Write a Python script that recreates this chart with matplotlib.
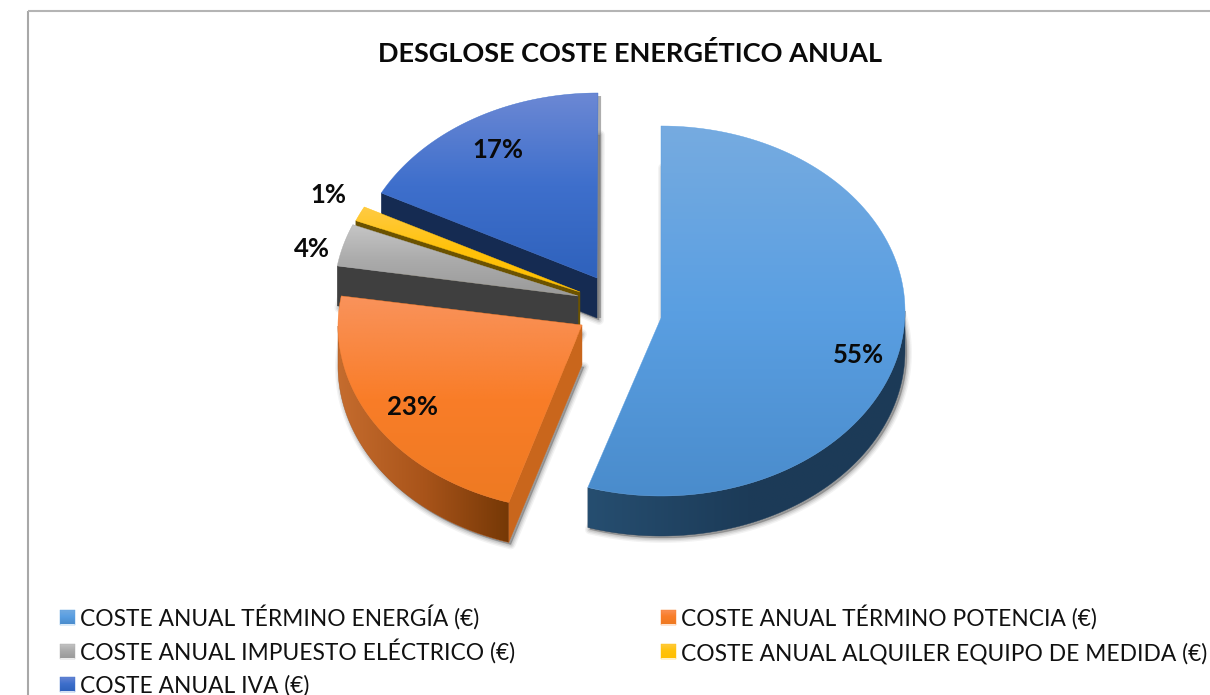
import numpy as np
import matplotlib
matplotlib.use("Agg")
import matplotlib.pyplot as plt
from matplotlib.colors import LinearSegmentedColormap
from matplotlib.patches import Polygon

plt.rcParams['font.family'] = ['Lato', 'DejaVu Sans']

# data
categories = ['COSTE ANUAL TÉRMINO ENERGÍA (€)', 'COSTE ANUAL TÉRMINO POTENCIA (€)',
              'COSTE ANUAL IMPUESTO ELÉCTRICO (€)', 'COSTE ANUAL ALQUILER EQUIPO DE MEDIDA (€)',
              'COSTE ANUAL IVA (€)']
values = [54.85, 22.75, 3.7, 1.3, 17.4]
title = 'DESGLOSE COSTE ENERGÉTICO ANUAL'

# style / layout (pixel space)
W, H = 1210, 695
RX, RY, DEPTH = 244, 185, 40
apex = [(661, 318), (582, 325), (578, 296), (580, 292), (597, 278)]
centre = [(661, 311), (582, 326), (578, 296), (581, 292), (598, 278)]
top_cols = [['#76ABE0', '#5A9FE2', '#4A8CCC'], ['#F9935C', '#F97D28', '#EE7A22'],
            ['#C6C6C6', '#ABABAB', '#9A9A9A'], ['#FFCB45', '#FFC20A', '#FFBF00'],
            ['#6C88D4', '#3E6FCC', '#2F62BC']]
arc_cols = [['#264E70', '#1C3B58', '#1C3A57'], ['#C56C2E', '#A9541A', '#753806'],
            ['#404040', '#404040', '#404040'], ['#6B5200', '#6B5200', '#6B5200'],
            ['#16294F', '#16294F', '#16294F']]
cut_cols = ['#1C3A57', '#C9661C', '#3F3F3F', '#6B5200', '#152B52']
label_pos = [(858, 363), (412, 415), (312, 257), (328, 203), (498, 158)]
legend_pos = [(60, 617), (661, 617), (60, 651), (661, 651), (60, 684)]

fig = plt.figure(figsize=(W / 100, H / 100), dpi=100)
ax = fig.add_axes([0, 0, 1, 1])
ax.axis('off')


def grad_fill(poly, colors, horizontal=False, z=1):
    poly = np.asarray(poly)
    x0, y0 = poly.min(axis=0)
    x1, y1 = poly.max(axis=0)
    cmap = LinearSegmentedColormap.from_list('g', colors)
    g = np.linspace(0, 1, 256)
    arr = g[None, :] if horizontal else g[:, None]
    im = ax.imshow(arr, cmap=cmap, extent=(x0, x1, y1, y0), origin='upper', aspect='auto',
                   zorder=z, interpolation='bilinear', vmin=0, vmax=1)
    p = Polygon(poly, closed=True, transform=ax.transData)
    im.set_clip_path(p)
    ax.add_patch(Polygon(poly, closed=True, fc='none', ec=colors[1], lw=0.3, zorder=z))


def arc(c, t0, t1, n=120):
    t = np.radians(np.linspace(t0, t1, n))
    return np.column_stack([c[0] + RX * np.sin(t), c[1] - RY * np.cos(t)])


bounds = np.concatenate([[0], np.cumsum(values)]) / np.sum(values) * 360
draw_order = [4, 3, 2, 1, 0]
z = 2
for i in draw_order:
    t0, t1 = bounds[i], bounds[i + 1]
    a, c = np.array(apex[i], float), centre[i]
    outer = arc(c, t0, t1)
    top = np.vstack([[a], outer])
    down = np.array([0, DEPTH])
    # soft shadow from the lower face
    base = top + down + np.array([2, 2])
    for lw, al in [(7, .07), (5, .10), (3, .14), (1, .2)]:
        ax.add_patch(Polygon(base, closed=True, fc='#555555', ec='#555555', lw=lw, alpha=al,
                             zorder=z, joinstyle='round'))
    if i == 4:  # soft shadow along the vertical right cut
        ax.plot([a[0] + 2] * 2, [centre[i][1] - RY + 3, a[1] + DEPTH], color='#777777', lw=3,
                alpha=.6, zorder=z, solid_capstyle='butt')
    z += 1
    # cut wall at the wedge's start edge
    p_out = arc(c, t0, t0, 1)[0]
    if i != 0:
        ax.add_patch(Polygon([a, p_out, p_out + down, a + down], closed=True,
                             fc=cut_cols[i], ec=cut_cols[i], lw=.3, zorder=z))
    # visible outer wall
    lo, hi = max(t0, 90), min(t1, 270)
    if hi > lo:
        front = arc(c, lo, hi)
        wall = np.vstack([front, (front + down)[::-1]])
        grad_fill(wall, arc_cols[i], horizontal=True, z=z)
    z += 1
    grad_fill(top, top_cols[i], z=z)
    z += 1

for v, (x, y) in zip(values, label_pos):
    ax.text(x, y, f'{v:.0f}%', ha='center', va='baseline', fontsize=18.5, fontweight='bold',
            color='#0a0a0a', zorder=50)

ax.text(630, 62, title, ha='center', va='baseline', fontsize=19.5, fontweight='bold',
        color='#0a0a0a', zorder=50)

for name, cols, (x, y) in zip(categories, top_cols, legend_pos):
    s = 15
    grad_fill([(x, y - s / 2), (x + s, y - s / 2), (x + s, y + s / 2), (x, y + s / 2)], cols, z=40)
    ax.text(x + 20, y + 9, name, ha='left', va='baseline', fontsize=16.4, color='#111111', zorder=50)

# chart frame
ax.plot([28, 28], [H, 11], color='#A8A8A8', lw=1.5, zorder=60, solid_capstyle='butt')
ax.plot([28, W], [11, 11], color='#B4B4B4', lw=1.5, zorder=60, solid_capstyle='butt')

ax.set_xlim(0, W)
ax.set_ylim(H, 0)
fig.savefig('out.png', dpi=100, facecolor='white')
